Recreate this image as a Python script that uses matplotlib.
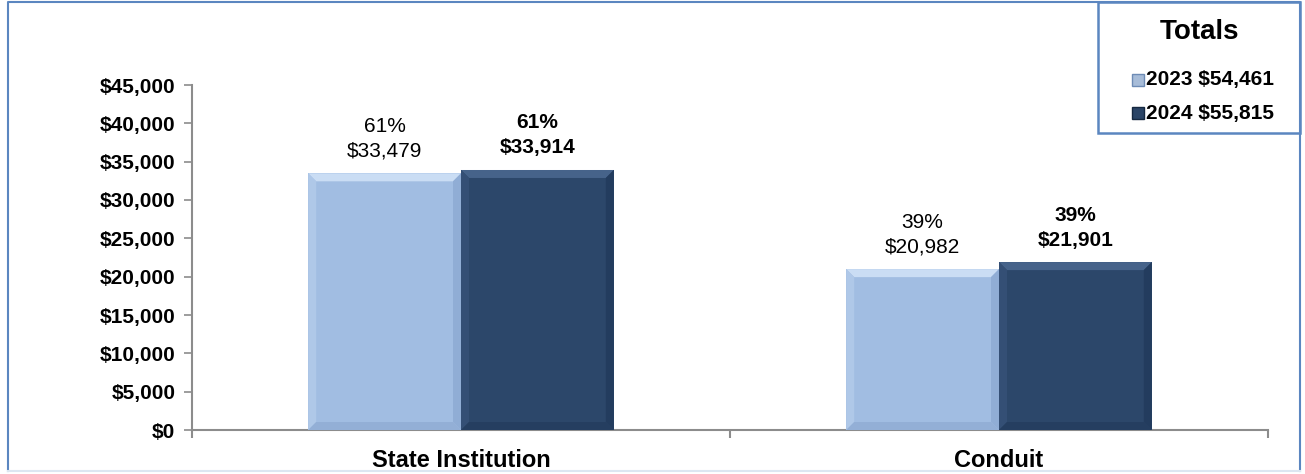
import numpy as np
import matplotlib.pyplot as plt
from matplotlib.patches import Polygon, Rectangle
from matplotlib.lines import Line2D
from matplotlib.ticker import FuncFormatter

plt.rcParams['font.family'] = ['Liberation Sans', 'DejaVu Sans']

categories = ['State Institution', 'Conduit']
vals_2023 = [33479, 20982]
vals_2024 = [33914, 21901]
pct_2023 = ['61%', '39%']
pct_2024 = ['61%', '39%']
legend_title = 'Totals'
legend_labels = ['2023 $54,461', '2024 $55,815']

c23 = '#A1BDE2'
c24 = '#2C476A'
border = '#5B86C0'

W, H = 1305, 474
fig = plt.figure(figsize=(W / 100, H / 100), dpi=100)
ax = fig.add_axes([192 / W, 1 - 430 / H, 1076 / W, 345 / H])
ax.set_xlim(-0.5, 1.5)
ax.set_ylim(0, 45000)

x = np.arange(len(categories))
w = 0.284
b1 = ax.bar(x - w / 2, vals_2023, w, color=c23, linewidth=0, zorder=3)
b2 = ax.bar(x + w / 2, vals_2024, w, color=c24, linewidth=0, zorder=3)

# bevel edges, ~8 px wide
dx = 8 * 2.0 / 1076
dy = 8 * 45000 / 345
bevel = {
    'light': ('#CADDF4', '#AFC8E8', '#90ADD5', '#93AFD6'),
    'dark': ('#46638A', '#344F75', '#233C5E', '#253E60'),
}
for bars, key in ((b1, 'light'), (b2, 'dark')):
    top, left, right, bot = bevel[key]
    for p in bars:
        x0, x1, h = p.get_x(), p.get_x() + p.get_width(), p.get_height()
        ax.add_patch(Polygon([(x0, h), (x1, h), (x1 - dx, h - dy), (x0 + dx, h - dy)], color=top, lw=0, zorder=4))
        ax.add_patch(Polygon([(x0, 0), (x0, h), (x0 + dx, h - dy), (x0 + dx, dy)], color=left, lw=0, zorder=4))
        ax.add_patch(Polygon([(x1, 0), (x1, h), (x1 - dx, h - dy), (x1 - dx, dy)], color=right, lw=0, zorder=4))
        ax.add_patch(Polygon([(x0, 0), (x1, 0), (x1 - dx, dy), (x0 + dx, dy)], color=bot, lw=0, zorder=4))

for i in range(len(categories)):
    ax.annotate(f'{pct_2023[i]}\n${vals_2023[i]:,}', (x[i] - w / 2, vals_2023[i]),
                xytext=(0, 9), textcoords='offset points', ha='center', va='bottom',
                fontsize=15, linespacing=1.4)
    ax.annotate(f'{pct_2024[i]}\n${vals_2024[i]:,}', (x[i] + w / 2, vals_2024[i]),
                xytext=(0, 9), textcoords='offset points', ha='center', va='bottom',
                fontsize=15, fontweight='bold', linespacing=1.4)

ax.set_yticks(np.arange(0, 45001, 5000))
ax.yaxis.set_major_formatter(FuncFormatter(lambda v, _: f'${v:,.0f}'))
ax.set_xticks([-0.5, 0.5, 1.5])
ax.set_xticklabels([])
ax.set_xticks(x, minor=True)
ax.set_xticklabels(categories, minor=True, fontsize=17, fontweight='bold')
ax.tick_params(axis='x', which='minor', length=0, pad=14)
ax.tick_params(axis='x', which='major', length=6, width=1.5, color='#8C8C8C')
ax.tick_params(axis='y', length=6, width=1.2, color='#8C8C8C', pad=6)
for lab in ax.get_yticklabels():
    lab.set_fontweight('bold')
    lab.set_fontsize(15)
for s in ('top', 'right'):
    ax.spines[s].set_visible(False)
for s in ('left', 'bottom'):
    ax.spines[s].set_color('#8C8C8C')
    ax.spines[s].set_linewidth(1.5)

# outer border: blue left/top/right, faint bottom
fx = lambda p: p / W
fy = lambda p: 1 - p / H
fig.add_artist(Line2D([fx(8), fx(8), fx(1300), fx(1300)], [fy(471), fy(2), fy(2), fy(471)],
                      transform=fig.transFigure, color=border, lw=1.5))
fig.add_artist(Line2D([fx(8), fx(1300)], [fy(471), fy(471)], transform=fig.transFigure,
                      color='#DCE6F1', lw=1.5))

# legend box drawn by hand (Excel-style "Totals" box)
fig.add_artist(Rectangle((fx(1098), fy(133)), fx(1300) - fx(1098), (133 - 2) / H,
                         transform=fig.transFigure, facecolor='white', edgecolor=border, lw=1.8))
fig.text(fx(1199), fy(32), legend_title, ha='center', va='center', fontsize=20, fontweight='bold')
swatch = [('#A7BCD8', '#6D8BB5'), ('#2A4466', '#152840')]
for (fc, ec), lab, yc in zip(swatch, legend_labels, (80, 113)):
    fig.add_artist(Rectangle((fx(1132), fy(yc + 6)), 12 / W, 12 / H, transform=fig.transFigure,
                             facecolor=fc, edgecolor=ec, lw=1))
    fig.text(fx(1146), fy(yc), lab, ha='left', va='center', fontsize=15, fontweight='bold')

fig.savefig('out.png', dpi=100)
